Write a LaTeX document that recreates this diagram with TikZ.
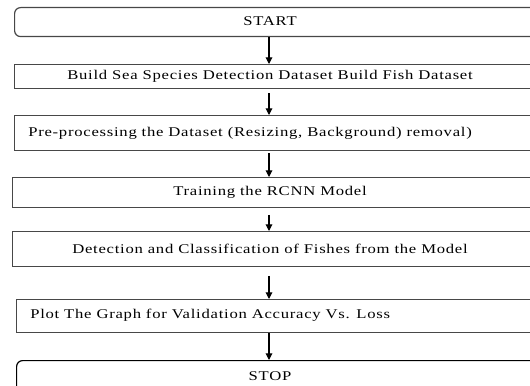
\documentclass[tikz,border=0pt]{standalone}
\usepackage{fontspec}
\setmainfont{Liberation Serif}[FakeStretch=1.25,LetterSpace=5.5]
\usetikzlibrary{arrows.meta}
\begin{document}
\begin{tikzpicture}[x=0.75pt,y=-0.75pt,
  box/.style={draw=black!72, line width=0.9pt, inner sep=0pt, anchor=north west, minimum width=398.25pt},
  rbox/.style={box, rounded corners=4.5pt},
  lbl/.style={font=\fontsize{10}{12}\selectfont, inner sep=0pt},
  arr/.style={draw=black, line width=0.8pt, -{Triangle[width=5pt,length=5pt]}}]
\useasboundingbox (0,0) rectangle (530,385);
\begin{scope}
\clip (0,0) rectangle (530,385);
\node[rbox, minimum height=21.75pt] (b1) at (14,7) {};
\node[box, minimum height=18pt] (b2) at (14,64) {};
\node[box, minimum height=26.25pt] (b3) at (14,115) {};
\node[box, minimum height=22.5pt] (b4) at (12,177) {};
\node[box, minimum height=26.25pt] (b5) at (12,231) {};
\node[box, minimum height=24.75pt] (b6) at (16,299) {};
\node[rbox, draw=black, minimum height=24pt] (b7) at (16,360) {};
\end{scope}
\node[lbl] (t1) at (270,21.5) {START};
\node[lbl] (t2) at (270,76) {Build Sea Species Detection Dataset Build Fish Dataset};
\node[lbl, anchor=west] (t3) at (28,133) {Pre-processing the Dataset (Resizing, Background) removal)};
\node[lbl] (t4) at (270,192) {Training the RCNN Model};
\node[lbl] (t5) at (270,249) {Detection and Classification of Fishes from the Model};
\node[lbl, anchor=west] (t6) at (30,315) {Plot The Graph for Validation Accuracy Vs. Loss};
\node[lbl] (t7) at (270,376) {STOP};
\coordinate (ax) at (269,0);
\draw[arr] (ax |- b1.south) -- (ax |- b2.north);
\draw[arr, shorten <=3pt] (ax |- b2.south) -- (ax |- b3.north);
\draw[arr, shorten <=1.5pt] (ax |- b3.south) -- (ax |- b4.north);
\draw[arr, shorten <=5pt] (ax |- b4.south) -- (ax |- b5.north);
\draw[arr, shorten <=6.5pt] (ax |- b5.south) -- (ax |- b6.north);
\draw[arr] (ax |- b6.south) -- (ax |- b7.north);
\end{tikzpicture}
\end{document}
